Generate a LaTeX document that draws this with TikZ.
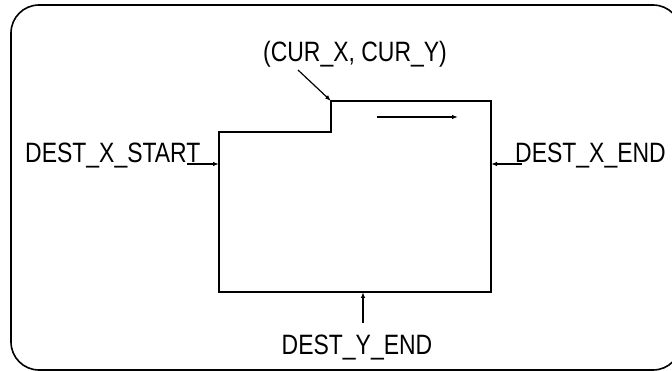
\documentclass[tikz,border=0pt]{standalone}
\usepackage{fontspec}
\setmainfont[FakeStretch=0.82]{Liberation Sans}
\usetikzlibrary{arrows.meta}
\tikzset{
	>={Latex[length=6pt,width=4.5pt]},
	frame/.style={black, line width=1.6pt, rounded corners=28pt},
	region/.style={black, line width=1.8pt},
	pointer/.style={black, line width=1.2pt, ->},
	lbl/.style={font=\fontsize{28}{30}\selectfont, inner sep=0pt},
}

\begin{document}
\begin{tikzpicture}[x=1pt,y=-1pt]
	\useasboundingbox (0,0) rectangle (672,371);
	% outer frame, it runs off the right edge
	\draw[frame] (11,5) rectangle (681,370);
	
	% the area being filled, with its step at the current point
	\draw[region] (219,132) -- (331,132) -- (331,101) coordinate (cur)
		-- (491,101) -- (491,292) -- (219,292) -- cycle;
	\coordinate (xs tip) at (219,164);
	\coordinate (xe tip) at (491,164);
	\coordinate (ye tip) at (363,292);
	
	% labels
	\node[lbl, anchor=base west] (xstart) at (25,163) {DEST\_X\_START};
	\node[lbl, anchor=base west] (xend) at (515,163) {DEST\_X\_END};
	\node[lbl, anchor=base] (yend) at (357,355) {DEST\_Y\_END};
	\node[lbl, anchor=base] (curlbl) at (355,62) {(CUR\_X, CUR\_Y)};
	
	% pointers into the area
	\coordinate (xs tail) at (187,164);
	\coordinate (xe tail) at (522,164);
	\coordinate (ye tail) at (363,323);
	\coordinate (cur tail) at (298,70);
	\draw[pointer] (xs tail) -- (xs tip);
	\draw[pointer] (xe tail) -- (xe tip);
	\draw[pointer] (ye tail) -- (ye tip);
	\draw[pointer] (cur tail) -- (cur);
	
	% fill direction
	\coordinate (dir a) at (377,117);
	\coordinate (dir b) at (458,117);
	\draw[pointer] (dir a) -- (dir b);
\end{tikzpicture}
\end{document}
